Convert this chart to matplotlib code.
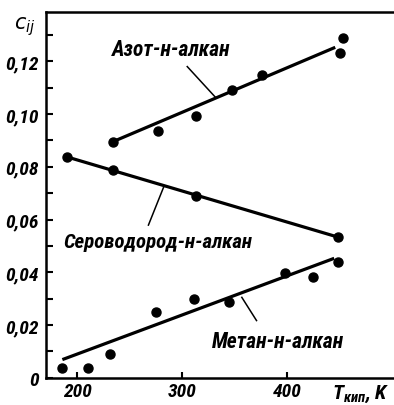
import matplotlib
matplotlib.use('Agg')
import matplotlib.pyplot as plt
from matplotlib.ticker import MultipleLocator, FixedLocator

# азот - н-алканы
t_azot = [234, 277, 313, 348, 376, 451, 453]
c_azot = [0.0895, 0.0937, 0.0994, 0.1093, 0.1147, 0.1230, 0.1288]
fit_azot_t = [234, 446]
fit_azot_c = [0.0895, 0.1253]

# сероводород - н-алканы
t_sero = [190, 234, 313, 449]
c_sero = [0.0838, 0.0789, 0.0690, 0.0533]
fit_sero_t = [190, 449]
fit_sero_c = [0.0838, 0.0533]

# метан - н-алканы
t_metan = [186, 210, 231, 275, 311, 345, 398, 425, 449]
c_metan = [0.0038, 0.0038, 0.0091, 0.0248, 0.0297, 0.0286, 0.0396, 0.0381, 0.0438]
fit_metan_t = [186, 445]
fit_metan_c = [0.0069, 0.0453]

names = ['Азот-н-алкан', 'Сероводород-н-алкан', 'Метан-н-алкан']

y_ticks = [0, 0.02, 0.04, 0.06, 0.08, 0.10, 0.12]
y_labels = ['0', '0,02', '0,04', '0,06', '0,08', '0,10', '0,12']
x_ticks = [200, 300, 400]
x_labels = ['200', '300', '400']

font = dict(family=['Roboto Condensed', 'DejaVu Sans'], weight='bold', style='italic')

fig = plt.figure(figsize=(3.94, 4.06), dpi=100)
ax = fig.add_axes([0.117, 0.067, 0.883, 0.901])

for t, c, ft, fc in [(t_azot, c_azot, fit_azot_t, fit_azot_c),
                     (t_sero, c_sero, fit_sero_t, fit_sero_c),
                     (t_metan, c_metan, fit_metan_t, fit_metan_c)]:
    ax.plot(ft, fc, color='black', lw=2.3, solid_capstyle='butt')
    ax.plot(t, c, 'o', color='black', ms=6.5)

ax.set_xlim(170.5, 502)
ax.set_ylim(0, 0.1387)

ax.spines['right'].set_visible(False)
for s in ['left', 'top', 'bottom']:
    ax.spines[s].set_linewidth(1.8)

ax.yaxis.set_major_locator(FixedLocator(y_ticks))
ax.yaxis.set_minor_locator(MultipleLocator(0.01))
ax.set_yticklabels(y_labels, fontsize=14, **font)
ax.xaxis.set_major_locator(FixedLocator(x_ticks))
ax.set_xticklabels(x_labels, fontsize=14, **font)
ax.tick_params(axis='y', which='both', direction='in', length=5, width=1.5, pad=5)
ax.tick_params(axis='x', direction='in', length=4, width=1.5, pad=3)

# подписи кривых и выноски к линиям
ax.text(290, 0.1245, names[0], ha='center', va='center', fontsize=15.5, **font)
ax.plot([305, 332], [0.1180, 0.1063], color='black', lw=1.1)
ax.text(277, 0.0518, names[1], ha='center', va='center', fontsize=15, **font)
ax.plot([268, 283], [0.0579, 0.0728], color='black', lw=1.1)
ax.text(391, 0.0141, names[2], ha='center', va='center', fontsize=15.5, **font)
ax.plot([371, 357], [0.0217, 0.0305], color='black', lw=1.1)

fig.text(0.063, 0.935, '$c_{ij}$', fontsize=15, ha='center', va='center')
fig.text(0.915, 0.028, 'T$_{\\mathregular{кип}}$, K', fontsize=15, ha='center', va='center', **font)

fig.savefig('out.png', dpi=100)
